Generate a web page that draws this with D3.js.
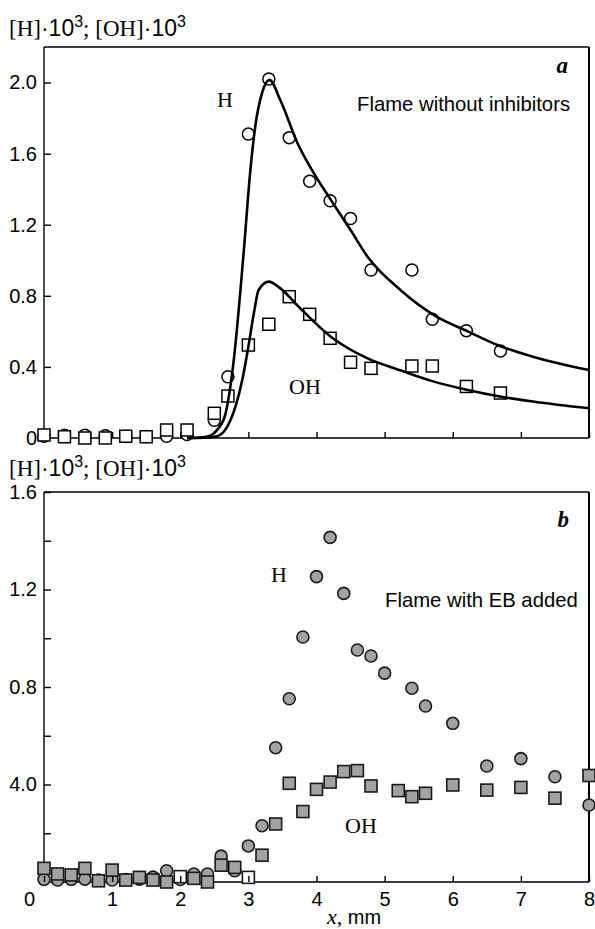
<!DOCTYPE html>
<html>
<head>
<meta charset="utf-8">
<script src="https://cdn.jsdelivr.net/npm/d3@7"></script>
<style>
  body { margin: 0; background: #fff; }
  svg text { fill: #000; }
  .sans { font-family: "Liberation Sans", Arial, sans-serif; }
  .serif { font-family: "Liberation Serif", "Times New Roman", serif; }
</style>
</head>
<body>
<div id="chart"></div>
<script>
var width = 595, height = 929;

// panel a: flame without inhibitors (open markers + model curves)
var aX       = [0, 0.3, 0.6, 0.9, 1.2, 1.5, 1.8, 2.1, 2.5, 2.7, 3.0, 3.3, 3.6, 3.9, 4.2, 4.5, 4.8, 5.4, 5.7, 6.2, 6.7];
var aH       = [0.01, 0.015, 0.015, 0.012, 0.008, 0.008, 0.01, 0.02, 0.10, 0.345, 1.71, 2.02, 1.69, 1.445, 1.335, 1.235, 0.945, 0.945, 0.668, 0.604, 0.49];
var aOH      = [0.017, 0.007, 0.0, 0.0, 0.01, 0.007, 0.045, 0.045, 0.139, 0.236, 0.523, 0.64, 0.795, 0.696, 0.561, 0.426, 0.392, 0.405, 0.405, 0.29, 0.253];

var curveHX  = [2.1, 2.3, 2.45, 2.55, 2.66, 2.78, 2.93, 3.03, 3.1, 3.2, 3.31, 3.47, 3.72, 3.96, 4.21, 4.5, 4.75, 5.24, 5.73, 6.22, 6.71, 7.2, 8.0];
var curveHY  = [0, 0.003, 0.015, 0.05, 0.13, 0.42, 1.04, 1.51, 1.75, 1.94, 2.015, 1.90, 1.66, 1.49, 1.34, 1.17, 1.02, 0.83, 0.69, 0.60, 0.515, 0.455, 0.383];
var curveOHX = [2.1, 2.35, 2.54, 2.69, 2.81, 2.91, 3.0, 3.08, 3.15, 3.3, 3.47, 3.76, 4.21, 4.75, 5.24, 5.7, 6.22, 6.71, 7.2, 8.0];
var curveOHY = [0, 0.002, 0.01, 0.064, 0.176, 0.326, 0.514, 0.70, 0.833, 0.88, 0.842, 0.73, 0.57, 0.448, 0.38, 0.32, 0.27, 0.232, 0.204, 0.167];

// panel b: flame with EB added (filled markers)
var bHX  = [0, 0.2, 0.4, 0.6, 0.8, 1.0, 1.2, 1.4, 1.6, 1.8, 2.0, 2.2, 2.4, 2.6, 2.8, 3.0, 3.2, 3.4, 3.6, 3.8, 4.0, 4.2, 4.4, 4.6, 4.8, 5.0, 5.4, 5.6, 6.0, 6.5, 7.0, 7.5, 8.0];
var bH   = [0.011, 0.008, 0.011, 0.012, 0.008, 0.008, 0.01, 0.012, 0.02, 0.046, 0.01, 0.033, 0.033, 0.106, 0.046, 0.148, 0.231, 0.551, 0.752, 1.005, 1.253, 1.414, 1.184, 0.952, 0.927, 0.857, 0.795, 0.722, 0.651, 0.476, 0.506, 0.432, 0.316];
var bOHX = [0, 0.2, 0.4, 0.6, 0.8, 1.0, 1.2, 1.4, 1.6, 1.8, 2.0, 2.2, 2.4, 2.6, 2.8, 3.0, 3.2, 3.4, 3.6, 3.8, 4.0, 4.2, 4.4, 4.6, 4.8, 5.2, 5.4, 5.6, 6.0, 6.5, 7.0, 7.5, 8.0];
var bOH  = [0.056, 0.033, 0.029, 0.056, 0.005, 0.049, 0.008, 0.019, 0.008, 0.0, 0.022, 0.015, 0.0, 0.069, 0.06, 0.019, 0.11, 0.238, 0.405, 0.289, 0.38, 0.41, 0.453, 0.457, 0.394, 0.375, 0.35, 0.364, 0.398, 0.377, 0.388, 0.344, 0.437];
var bOHblank = [2.0, 3.0]; // squares printed without fill

var xTicks   = [0, 1, 2, 3, 4, 5, 6, 7, 8];
var aYTicks  = [0, 0.4, 0.8, 1.2, 1.6, 2.0];
var aYLabels = ["0", "0.4", "0.8", "1.2", "1.6", "2.0"];
var bYTicks  = [0.2, 0.4, 0.6, 0.8, 1.0, 1.2, 1.4, 1.6];
var bYLabels = ["", "4.0", "", "0.8", "", "1.2", "", "1.6"];

var svg = d3.select('#chart').append('svg')
  .attr('width', width)
  .attr('height', height);

var x = d3.scaleLinear().domain([0, 8]).range([44, 589]);
var yA = d3.scaleLinear().domain([0, 2.2]).range([438, 47]);
var yB = d3.scaleLinear().domain([0, 1.6]).range([882, 492]);

function frame(g, y, top, bottom) {
  g.append('line').attr('x1', x(0)).attr('x2', x(8)).attr('y1', y(top)).attr('y2', y(top))
    .attr('stroke', '#000').attr('stroke-width', 1.3);
  g.append('line').attr('x1', x(0)).attr('x2', x(8)).attr('y1', y(bottom)).attr('y2', y(bottom))
    .attr('stroke', '#000').attr('stroke-width', 1.6);
  g.append('line').attr('x1', x(0)).attr('x2', x(0)).attr('y1', y(top)).attr('y2', y(bottom))
    .attr('stroke', '#000').attr('stroke-width', 1.4);
  g.append('line').attr('x1', x(8)).attr('x2', x(8)).attr('y1', y(top)).attr('y2', y(bottom))
    .attr('stroke', '#000').attr('stroke-width', 2);
}

function yAxis(g, y, ticks, labels) {
  var ax = g.append('g')
    .attr('transform', 'translate(' + x(0) + ',0)')
    .call(d3.axisLeft(y).tickValues(ticks)
      .tickFormat((d, i) => labels[i])
      .tickSizeInner(-7).tickSizeOuter(0).tickPadding(7));
  ax.select('.domain').remove();
  ax.selectAll('line').attr('stroke', '#000').attr('stroke-width', 1.4);
  ax.selectAll('text').attr('class', 'sans').style('font-size', '20px').style('font-family', null);
  return ax;
}

function xAxis(g, y, showLabels) {
  var ax = g.append('g')
    .attr('transform', 'translate(0,' + y(0) + ')')
    .call(d3.axisBottom(x).tickValues(xTicks)
      .tickFormat(d => showLabels ? d : '')
      .tickSizeInner(-6).tickSizeOuter(0).tickPadding(10));
  ax.select('.domain').remove();
  ax.selectAll('line').attr('stroke', '#000').attr('stroke-width', 1.4);
  ax.selectAll('text').attr('class', 'sans').style('font-size', '20px').style('font-family', null);
  // the "0" label sits left of the y axis
  ax.selectAll('.tick').filter(d => d === 0).select('text').attr('x', -15);
  return ax;
}

function yTitle(yBase) {
  var t = svg.append('text').attr('x', 9).attr('y', yBase);
  t.append('tspan').attr('class', 'serif').style('font-size', '23px').text('[H]');
  t.append('tspan').attr('class', 'sans').style('font-size', '23px').text('·10');
  t.append('tspan').attr('class', 'sans').style('font-size', '16px').attr('dy', -9).text('3');
  t.append('tspan').attr('class', 'serif').style('font-size', '23px').attr('dy', 9).text('; [OH]');
  t.append('tspan').attr('class', 'sans').style('font-size', '23px').text('·10');
  t.append('tspan').attr('class', 'sans').style('font-size', '16px').attr('dy', -9).text('3');
}

// ---------- panel a ----------
var gA = svg.append('g');
frame(gA, yA, 2.2, 0);
yAxis(gA, yA, aYTicks, aYLabels);
xAxis(gA, yA, false);

var ptsA = aX.map((d, i) => ({x: d, h: aH[i], oh: aOH[i]}));

gA.append('g').selectAll('circle')
  .data(ptsA)
  .enter().append('circle')
    .attr('cx', d => x(d.x))
    .attr('cy', d => yA(d.h))
    .attr('r', 6)
    .attr('fill', '#fff')
    .attr('stroke', '#000')
    .attr('stroke-width', 1.5);

gA.append('g').selectAll('rect')
  .data(ptsA)
  .enter().append('rect')
    .attr('x', d => x(d.x) - 6)
    .attr('y', d => yA(d.oh) - 6)
    .attr('width', 12)
    .attr('height', 12)
    .attr('fill', '#fff')
    .attr('stroke', '#000')
    .attr('stroke-width', 1.5);

var lineA = d3.line()
  .x(d => x(d[0]))
  .y(d => yA(d[1]))
  .curve(d3.curveMonotoneX);

gA.append('path')
  .datum(curveHX.map((d, i) => [d, curveHY[i]]))
  .attr('d', lineA)
  .attr('fill', 'none').attr('stroke', '#000').attr('stroke-width', 2.6);
gA.append('path')
  .datum(curveOHX.map((d, i) => [d, curveOHY[i]]))
  .attr('d', lineA)
  .attr('fill', 'none').attr('stroke', '#000').attr('stroke-width', 2.6);

yTitle(36);
gA.append('text').attr('class', 'serif').attr('x', 568).attr('y', 73)
  .attr('text-anchor', 'end')
  .style('font-size', '23px').style('font-weight', 'bold').style('font-style', 'italic').text('a');
gA.append('text').attr('class', 'sans').attr('x', 357).attr('y', 111)
  .style('font-size', '20.3px').text('Flame without inhibitors');
gA.append('text').attr('class', 'serif').attr('x', 225).attr('y', 107)
  .attr('text-anchor', 'middle').style('font-size', '22px').text('H');
gA.append('text').attr('class', 'serif').attr('x', 305).attr('y', 394)
  .attr('text-anchor', 'middle').style('font-size', '22px').text('OH');

// ---------- panel b ----------
var gB = svg.append('g');
frame(gB, yB, 1.6, 0);
yAxis(gB, yB, bYTicks, bYLabels);

gB.append('g').selectAll('circle')
  .data(bHX.map((d, i) => ({x: d, v: bH[i]})))
  .enter().append('circle')
    .attr('cx', d => x(d.x))
    .attr('cy', d => yB(d.v))
    .attr('r', 6)
    .attr('fill', '#a2a2a2')
    .attr('stroke', '#1a1a1a')
    .attr('stroke-width', 1.6);

gB.append('g').selectAll('rect')
  .data(bOHX.map((d, i) => ({x: d, v: bOH[i]})))
  .enter().append('rect')
    .attr('x', d => x(d.x) - 6)
    .attr('y', d => yB(d.v) - 6)
    .attr('width', 12)
    .attr('height', 12)
    .attr('fill', d => bOHblank.indexOf(d.x) >= 0 ? '#fff' : '#a2a2a2')
    .attr('stroke', '#1a1a1a')
    .attr('stroke-width', 1.6);

xAxis(gB, yB, true);

yTitle(476);
gB.append('text').attr('class', 'serif').attr('x', 569).attr('y', 527)
  .attr('text-anchor', 'end')
  .style('font-size', '23px').style('font-weight', 'bold').style('font-style', 'italic').text('b');
gB.append('text').attr('class', 'sans').attr('x', 385).attr('y', 607)
  .style('font-size', '20.3px').text('Flame with EB added');
gB.append('text').attr('class', 'serif').attr('x', 279).attr('y', 582)
  .attr('text-anchor', 'middle').style('font-size', '22px').text('H');
gB.append('text').attr('class', 'serif').attr('x', 361).attr('y', 833)
  .attr('text-anchor', 'middle').style('font-size', '22px').text('OH');

var xt = gB.append('text').attr('x', 327).attr('y', 924);
xt.append('tspan').attr('class', 'serif').style('font-size', '22px').style('font-style', 'italic').text('x');
xt.append('tspan').attr('class', 'serif').style('font-size', '22px').text(',  ');
xt.append('tspan').attr('class', 'sans').style('font-size', '20px').text('mm');
</script>
</body>
</html>
